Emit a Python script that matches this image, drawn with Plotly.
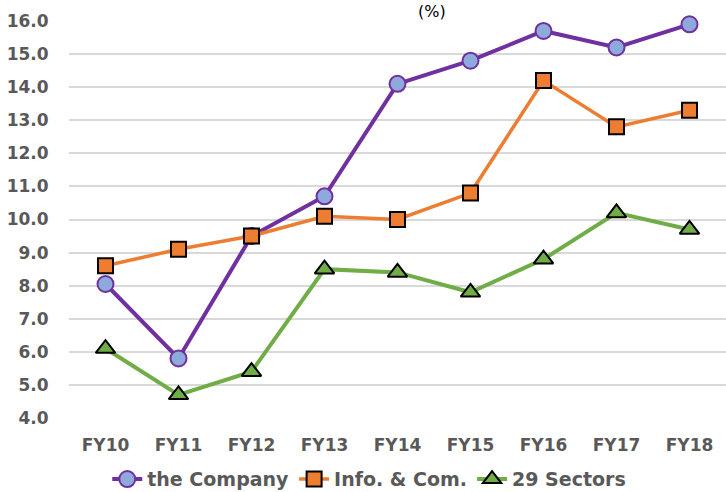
import plotly.graph_objects as go

categories = ["FY10", "FY11", "FY12", "FY13", "FY14", "FY15", "FY16", "FY17", "FY18"]
company = [8.05, 5.8, 9.5, 10.7, 14.1, 14.8, 15.7, 15.2, 15.9]
info_com = [8.6, 9.1, 9.5, 10.1, 10.0, 10.8, 14.2, 12.8, 13.3]
sectors29 = [6.1, 4.7, 5.4, 8.5, 8.4, 7.8, 8.8, 10.2, 9.7]
y_ticks = [4, 5, 6, 7, 8, 9, 10, 11, 12, 13, 14, 15, 16]

FONT = "DejaVu Sans"
GRAY = "#595959"

fig = go.Figure()
fig.add_trace(go.Scatter(
    x=categories, y=company, name="the Company", mode="lines+markers",
    line=dict(color="#7030A0", width=4),
    marker=dict(symbol="circle", size=16, color="#8EA9DB",
                line=dict(color="#7030A0", width=2)),
    cliponaxis=False))
fig.add_trace(go.Scatter(
    x=categories, y=info_com, name="Info. & Com.", mode="lines+markers",
    line=dict(color="#ED7D31", width=3.5),
    marker=dict(symbol="square", size=15, color="#ED7D31",
                line=dict(color="#000000", width=2)),
    cliponaxis=False))
fig.add_trace(go.Scatter(
    x=categories, y=sectors29, name="29 Sectors", mode="lines+markers",
    line=dict(color="#70AD47", width=4),
    marker=dict(symbol="triangle-up", size=17, color="#70AD47",
                line=dict(color="#000000", width=2)),
    cliponaxis=False))

fig.update_layout(
    width=726, height=492,
    margin=dict(l=69, r=0, t=21, b=74, autoexpand=False),
    paper_bgcolor="white", plot_bgcolor="white",
    font=dict(family=FONT, color=GRAY),
    showlegend=True,
    legend=dict(orientation="h", x=0.457, xanchor="center", y=-0.202, yanchor="bottom",
                font=dict(family=FONT, size=19, color=GRAY, weight="bold"),
                itemwidth=30, tracegroupgap=0),
    xaxis=dict(type="category", range=[-0.5, 8.5], showgrid=False, zeroline=False,
               showline=False, ticks="outside", ticklen=12, tickcolor="rgba(0,0,0,0)",
               tickfont=dict(family=FONT, size=17, color=GRAY, weight="bold")),
    yaxis=dict(range=[4, 16], tickvals=y_ticks, ticktext=[f"{v:.1f}" for v in y_ticks],
               showgrid=True, gridcolor="#D9D9D9", gridwidth=1.5, zeroline=False,
               showline=False, ticks="outside", ticklen=16, tickcolor="rgba(0,0,0,0)",
               tickfont=dict(family=FONT, size=17, color=GRAY, weight="bold")),
    annotations=[dict(text="(%)", xref="paper", yref="paper", x=0.552, y=1,
                      xanchor="center", yanchor="top", yshift=21, showarrow=False,
                      font=dict(family=FONT, size=16, color="#000000"))],
)

fig.write_html("out.html")
